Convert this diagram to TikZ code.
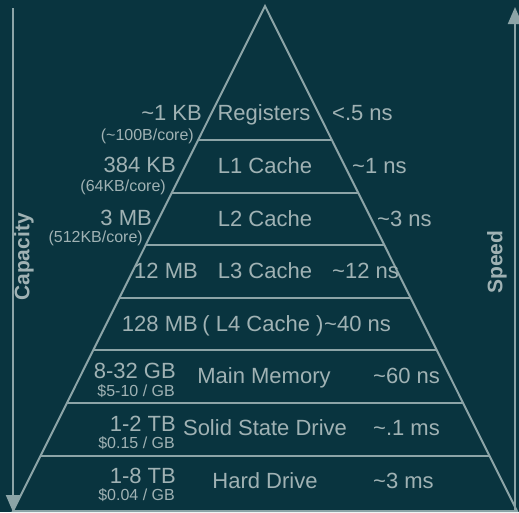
\documentclass[tikz,border=0pt]{standalone}
\usepackage{fontspec}
\setmainfont{Liberation Sans}
\usetikzlibrary{calc,arrows.meta}

\definecolor{slidebg}{RGB}{9,52,63}
\definecolor{slidefg}{RGB}{140,164,167}
\definecolor{slidetext}{RGB}{160,178,180}

\tikzset{
  tierlabel/.style={font=\fontsize{22}{24}\selectfont, text=slidetext, inner sep=0pt},
  sidenote/.style={font=\fontsize{16}{18}\selectfont, text=slidetext, inner sep=0pt,
    text height=10pt, anchor=base east},
  axislabel/.style={font=\bfseries\fontsize{21}{24}\selectfont, text=slidetext, rotate=90, inner sep=0pt},
  pyrline/.style={draw=slidefg, line width=2pt},
}

\begin{document}
\begin{tikzpicture}[x=1pt,y=-1pt]
  \fill[slidebg] (0,0) rectangle (519,512);
  \useasboundingbox (0,0) rectangle (519,512);

  % pyramid
  \coordinate (apex) at (265,6);
  \coordinate (baseL) at (13,511);
  \coordinate (baseR) at (517,511);
  \draw[pyrline, line join=miter] (apex) -- (baseL) -- (baseR) -- cycle;
  \foreach \y in {140,193,245,298,350,403,456}
    \draw[pyrline] ($(apex)!{(\y-6)/505}!(baseL)$) -- ($(apex)!{(\y-6)/505}!(baseR)$);

  % side arrows
  \coordinate (captop) at (13,8);
  \coordinate (capbot) at (13,512);
  \draw[pyrline, -{Triangle[length=17pt,width=14pt]}] (captop) -- (capbot);
  \coordinate (spdbot) at (515,511);
  \coordinate (spdtop) at (515,7);
  \draw[pyrline, -{Triangle[length=17pt,width=14pt]}] (spdbot) -- (spdtop);
  \node[axislabel] (capacity) at (24,257) {Capacity};
  \node[axislabel] (speed) at (497,262) {Speed};

  % tier names
  \node[tierlabel, anchor=base] (reg) at (264,120) {Registers};
  \node[tierlabel, anchor=base] (l1) at (265,173) {L1 Cache};
  \node[tierlabel, anchor=base] (l2) at (265,226) {L2 Cache};
  \node[tierlabel, anchor=base] (l3) at (265,278) {L3 Cache};
  \node[tierlabel, anchor=base] (l4) at (263,331) {( L4 Cache )};
  \node[tierlabel, anchor=base] (mem) at (264,383) {Main Memory};
  \node[tierlabel, anchor=base] (ssd) at (265,435) {Solid State Drive};
  \node[tierlabel, anchor=base] (hdd) at (265,488) {Hard Drive};

  % capacities
  \node[tierlabel, anchor=base east] (regsize) at (202,120) {\char`~1 KB};
  \node[sidenote] (regcore) at (194,140) {(\char`~100B/core)};
  \node[tierlabel, anchor=base east] (l1size) at (176,172) {384 KB};
  \node[sidenote] (l1core) at (166,191) {(64KB/core)};
  \node[tierlabel, anchor=base east] (l2size) at (152,225) {3 MB};
  \node[sidenote] (l2core) at (143,242) {(512KB/core)};
  \node[tierlabel, anchor=base east] (l3size) at (198,278) {12 MB};
  \node[tierlabel, anchor=base east] (l4size) at (198,331) {128 MB};
  \node[tierlabel, anchor=base east] (memsize) at (176,378) {8-32 GB};
  \node[sidenote] (memcost) at (175,396) {\$5-10 / GB};
  \node[tierlabel, anchor=base east] (ssdsize) at (176,431) {1-2 TB};
  \node[sidenote] (ssdcost) at (175,448) {\$0.15 / GB};
  \node[tierlabel, anchor=base east] (hddsize) at (176,483) {1-8 TB};
  \node[sidenote] (hddcost) at (175,500) {\$0.04 / GB};

  % latencies
  \node[tierlabel, anchor=base west] (regtime) at (332,120) {<.5 ns};
  \node[tierlabel, anchor=base west] (l1time) at (352,173) {\char`~1 ns};
  \node[tierlabel, anchor=base west] (l2time) at (377,226) {\char`~3 ns};
  \node[tierlabel, anchor=base west] (l3time) at (332,278) {\char`~12 ns};
  \node[tierlabel, anchor=base west] (l4time) at (324,331) {\char`~40 ns};
  \node[tierlabel, anchor=base west] (memtime) at (373,383) {\char`~60 ns};
  \node[tierlabel, anchor=base west] (ssdtime) at (373,435) {\char`~.1 ms};
  \node[tierlabel, anchor=base west] (hddtime) at (373,488) {\char`~3 ms};
\end{tikzpicture}
\end{document}
